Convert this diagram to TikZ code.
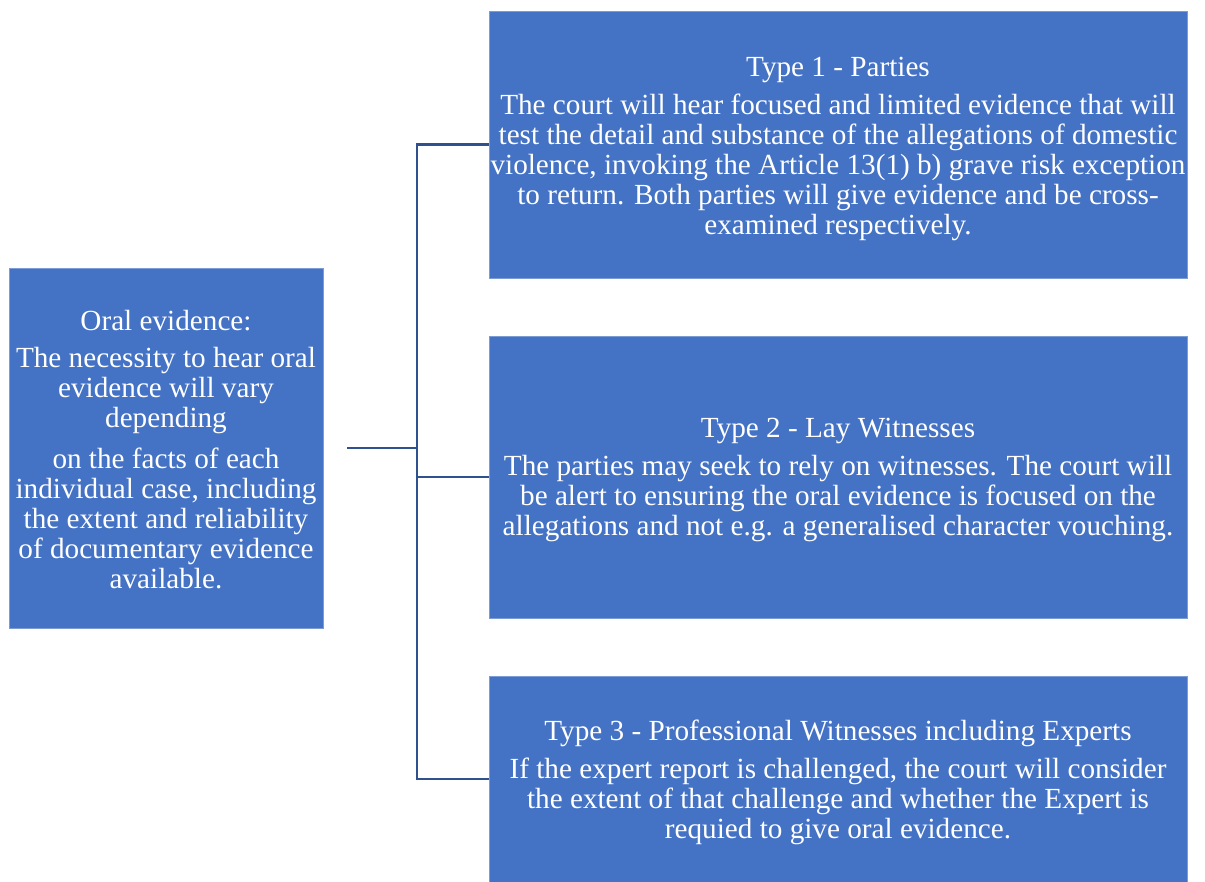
\documentclass[tikz,border=0pt]{standalone}
\usepackage{fontspec}
\setmainfont{Liberation Serif}
\definecolor{boxblue}{HTML}{4472C4}
\definecolor{lineblue}{HTML}{2F528F}
\begin{document}
\begin{tikzpicture}[x=1pt,y=-1pt,
  box/.style={rectangle, fill=boxblue, draw=boxblue!70!white, line width=0.6pt,
    inner sep=0pt},
  txt/.style={text=white, align=center, inner sep=0pt,
    font=\fontsize{29.2}{30}\selectfont},
  conn/.style={draw=lineblue, line width=2.4pt}]
\useasboundingbox (0,0) rectangle (1205,882);
\node[box, minimum width=314, minimum height=360] (oral) at (166,448) {};
\node[box, minimum width=698, minimum height=267] (t1) at (838,144.5) {};
\node[box, minimum width=698, minimum height=282] (t2) at (838,477) {};
\node[box, minimum width=698, minimum height=206] (t3) at (838,779) {};
\node[txt] (oraltxt) at ([yshift=-2pt]oral.center)
  {Oral evidence:\\[7pt]
   The necessity to hear oral\\ evidence will vary\\ depending\\[11pt]
   on the facts of each\\ individual case, including\\ the extent and reliability\\
   of documentary evidence\\ available.};
\node[txt] (t1txt) at ([yshift=-4pt]t1.center)
  {Type 1 - Parties\\[8pt]
   The court will hear focused and limited evidence that will\\
   test the detail and substance of the allegations of domestic\\
   violence, invoking the Article 13(1) b) grave risk exception\\
   to return. Both parties will give evidence and be cross-\\
   examined respectively.};
\node[txt] (t2txt) at ([yshift=-3pt]t2.center)
  {Type 2 - Lay Witnesses\\[8pt]
   The parties may seek to rely on witnesses. The court will\\
   be alert to ensuring the oral evidence is focused on the\\
   allegations and not e.g. a generalised character vouching.};
\node[txt] (t3txt) at ([yshift=-3pt]t3.center)
  {Type 3 - Professional Witnesses including Experts\\[8pt]
   If the expert report is challenged, the court will consider\\
   the extent of that challenge and whether the Expert is\\
   requied to give oral evidence.};
\coordinate (s) at (347,448);
\coordinate (j) at (417,448);
\draw[conn] (s) -- (j);
\draw[conn] (j) |- (t1.west);
\draw[conn] (j) |- (t2.west);
\draw[conn] (j) |- (t3.west);
\end{tikzpicture}
\end{document}
